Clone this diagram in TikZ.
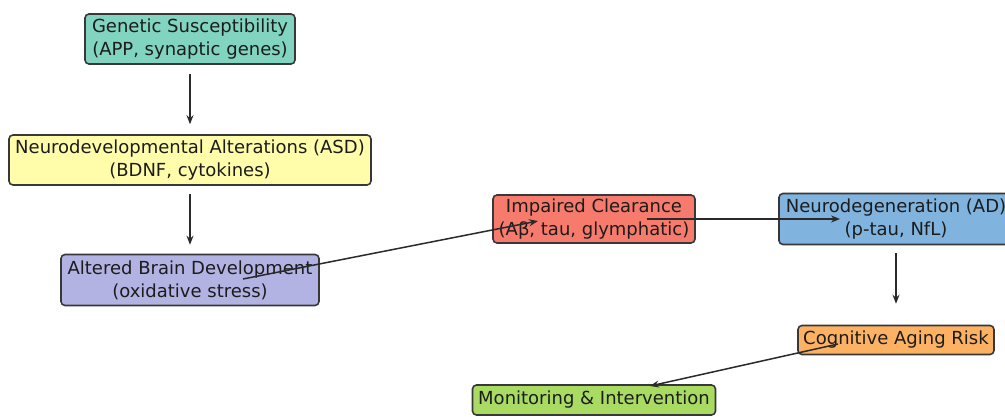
\documentclass[tikz,border=0pt]{standalone}
\usepackage{fontspec}
\setmainfont{DejaVu Sans}
\usetikzlibrary{arrows.meta,calc}
\definecolor{cgen}{HTML}{80D4C0}
\definecolor{cneuro}{HTML}{FFFCAA}
\definecolor{calt}{HTML}{B3B3E3}
\definecolor{cclr}{HTML}{F77B6C}
\definecolor{cdeg}{HTML}{80B3DD}
\definecolor{crisk}{HTML}{FDB263}
\definecolor{cmon}{HTML}{A9DB62}
\definecolor{boxline}{HTML}{383838}
\definecolor{arrowcol}{HTML}{2A2A2A}
\definecolor{textcol}{HTML}{1C1C1C}
\begin{document}
\begin{tikzpicture}[x=1pt,y=-1pt,
  box/.style={draw=boxline, line width=1.6pt, rounded corners=4pt, inner sep=0pt,
    align=center, font=\fontsize{18}{23}\selectfont, text=textcol},
  conn/.style={draw=arrowcol, line width=1.5pt, -{Stealth[length=9pt,width=7pt]}}]
\useasboundingbox (0,0) rectangle (1005,417);
\fill[white] (0,0) rectangle (1005,417);
\node[box, fill=cgen, minimum width=210pt, minimum height=50pt] (gen) at (190,39)
  {Genetic Susceptibility\\(APP, synaptic genes)};
\node[box, fill=cneuro, minimum width=362pt, minimum height=50pt] (neuro) at (190,160)
  {Neurodevelopmental Alterations (ASD)\\(BDNF, cytokines)};
\node[box, fill=calt, minimum width=258pt, minimum height=51pt] (alt) at (190,280)
  {Altered Brain Development\\(oxidative stress)};
\node[box, fill=cclr, minimum width=202pt, minimum height=48pt] (clr) at (594,219)
  {Impaired Clearance\\(Aβ, tau, glymphatic)};
\node[box, fill=cdeg, minimum width=234pt, minimum height=51pt] (deg) at (896,219)
  {Neurodegeneration (AD)\\(p-tau, NfL)};
\node[box, fill=crisk, minimum width=196pt, minimum height=29pt] (risk) at (896,340)
  {Cognitive Aging Risk};
\node[box, fill=cmon, minimum width=243pt, minimum height=30pt] (mon) at (594,400)
  {Monitoring \& Intervention};
\draw[conn] ($(gen.south)+(0,9)$) -- ($(neuro.north)+(0,-10)$);
\draw[conn] ($(neuro.south)+(0,8)$) -- ($(alt.north)+(0,-9)$);
\draw[conn] ($(alt.center)+(53,-1)$) -- ($(clr.center)+(-56,2)$);
\draw[conn] ($(clr.center)+(53,0)$) -- ($(deg.center)+(-56,0)$);
\draw[conn] ($(deg.south)+(0,8)$) -- ($(risk.north)+(0,-21)$);
\draw[conn] ($(risk.center)+(-58,4)$) -- ($(mon.center)+(56,-14)$);
\end{tikzpicture}
\end{document}
